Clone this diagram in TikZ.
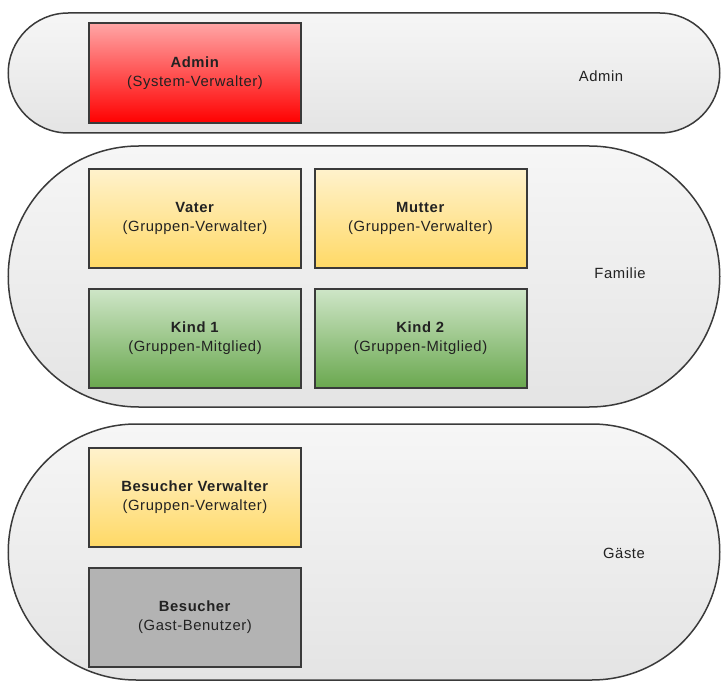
\documentclass[tikz,border=0pt]{standalone}
\usepackage{fontspec}
\setmainfont{Liberation Sans}[LetterSpace=4]
\usetikzlibrary{shapes.misc}
\definecolor{pillTop}{HTML}{F6F6F6}
\definecolor{pillBot}{HTML}{E4E4E4}
\definecolor{lineDark}{HTML}{3A3A3A}
\definecolor{redTop}{HTML}{FFA6A6}
\definecolor{redBot}{HTML}{FF0000}
\definecolor{yelTop}{HTML}{FFF2CC}
\definecolor{yelBot}{HTML}{FFD966}
\definecolor{grnTop}{HTML}{CFE6C8}
\definecolor{grnBot}{HTML}{6AA84F}
\definecolor{greyFill}{HTML}{B3B3B3}
\definecolor{txt}{HTML}{222222}
\begin{document}
\begin{tikzpicture}[x=1pt,y=-1pt,
  pill/.style={rounded rectangle, draw=lineDark, line width=1.5pt, top color=pillTop, bottom color=pillBot, inner sep=0pt, minimum width=711.5pt},
  rolebox/.style={rectangle, draw=lineDark, line width=2pt, minimum width=212pt, minimum height=99pt, inner sep=0pt, align=center, text=txt, font=\fontsize{14.8}{19}\selectfont, execute at begin node={\rule{0pt}{18pt}}},
  grouplabel/.style={text=txt, font=\fontsize{14.8}{18}\selectfont, inner sep=0pt},
  redbox/.style={rolebox, top color=redTop, bottom color=redBot},
  yelbox/.style={rolebox, top color=yelTop, bottom color=yelBot},
  grnbox/.style={rolebox, top color=grnTop, bottom color=grnBot},
  greybox/.style={rolebox, fill=greyFill}
]
\useasboundingbox (0,0) rectangle (721,682);

% groups
\node[pill, minimum height=120pt] (gAdmin) at (364,73) {};
\node[pill, minimum height=261pt] (gFamilie) at (364,276.5) {};
\node[pill, minimum height=256pt] (gGaeste) at (364,552) {};

% group labels
\node[grouplabel] (lAdmin) at (601,76) {Admin};
\node[grouplabel] (lFamilie) at (620,273) {Familie};
\node[grouplabel] (lGaeste) at (624,553) {Gäste};

% role boxes
\node[redbox, minimum height=100pt] (admin) at (195,73) {\textbf{Admin}\\(System-Verwalter)};
\node[yelbox] (vater) at (195,218.5) {\textbf{Vater}\\(Gruppen-Verwalter)};
\node[yelbox] (mutter) at (420.5,218.5) {\textbf{Mutter}\\(Gruppen-Verwalter)};
\node[grnbox] (kind1) at (195,338) {\textbf{Kind 1}\\(Gruppen-Mitglied)};
\node[grnbox] (kind2) at (420.5,338) {\textbf{Kind 2}\\(Gruppen-Mitglied)};
\node[yelbox] (bverw) at (195,497.5) {\textbf{Besucher Verwalter}\\(Gruppen-Verwalter)};
\node[greybox] (besucher) at (195,617) {\textbf{Besucher}\\(Gast-Benutzer)};
\end{tikzpicture}
\end{document}
